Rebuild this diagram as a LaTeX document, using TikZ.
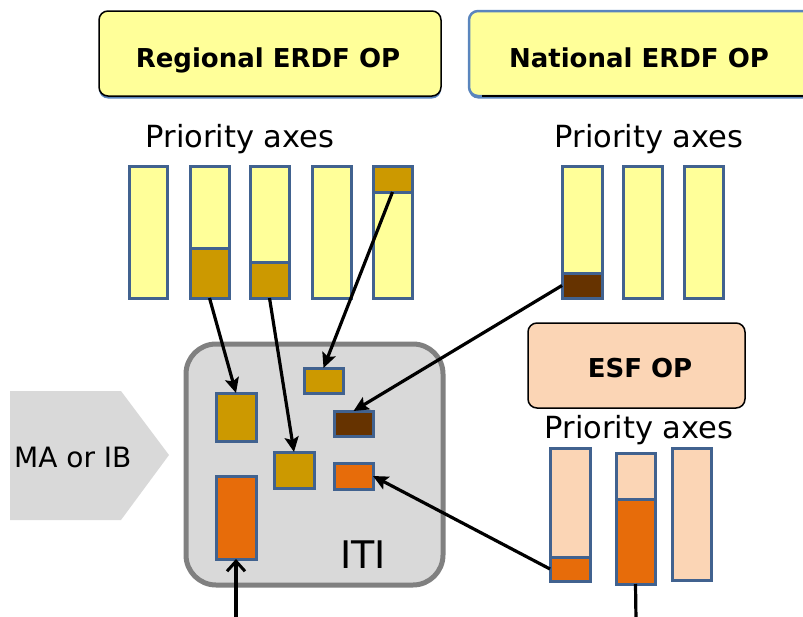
\documentclass[tikz,border=0pt]{standalone}
\usepackage{fontspec}
\setmainfont{DejaVu Sans}
\usetikzlibrary{arrows.meta}
\definecolor{paleY}{HTML}{FFFF99}
\definecolor{gold}{HTML}{CC9900}
\definecolor{brownD}{HTML}{663300}
\definecolor{peach}{HTML}{FBD5B5}
\definecolor{orangeD}{HTML}{E76C0A}
\definecolor{edgeB}{HTML}{41628F}
\definecolor{greyF}{HTML}{D9D9D9}
\definecolor{greyE}{HTML}{808080}
\definecolor{shadowB}{HTML}{5A85BD}
\newcommand{\rbox}[6]{\node[#1,minimum width={(#4-#2)*1pt},minimum height={(#5-#3)*1pt}] (#6) at ({(#2+#4)/2},{(#3+#5)/2}) {};}
\tikzset{
  barbox/.style={draw=edgeB,line width=3pt,inner sep=0pt,outer sep=0pt,rectangle},
  yb/.style={barbox,fill=paleY},
  gb/.style={barbox,fill=gold},
  bb/.style={barbox,fill=brownD},
  pb/.style={barbox,fill=peach},
  ob/.style={barbox,fill=orangeD},
  titlebox/.style={rectangle,rounded corners=9pt,inner sep=0pt,outer sep=0pt,line width=1.5pt},
  titletext/.style={font=\fontsize{26}{30}\selectfont\bfseries,anchor=base,inner sep=0pt},
  axtext/.style={font=\fontsize{30.5}{36}\selectfont,anchor=base,inner sep=0pt},
  conn/.style={line width=3.2pt,-{Stealth[length=15pt,width=14pt,inset=3pt]}},
}
\begin{document}
\begin{tikzpicture}[x=1pt,y=-1pt]
\useasboundingbox (0,0) rectangle (803,616);
\clip (0,0) rectangle (803,616);
% title boxes
\fill[shadowB,rounded corners=9pt] (99,13.5) rectangle (441,98.5);
\rbox{titlebox,fill=paleY,draw=black}{99}{11}{441}{96}{reg}
\fill[shadowB,rounded corners=9pt] (469,13.5) rectangle (830,98.5);
\rbox{titlebox,fill=paleY,draw=shadowB,line width=2.5pt}{469}{11}{830}{96}{nat}
\draw[black,line width=1.5pt] (482,96) -- (830,96);
\node[titletext] (regt) at (268,67) {Regional ERDF OP};
\node[titletext] (natt) at (639,67) {National ERDF OP};
% priority axes labels
\node[axtext] (rax) at (240,147) {Priority axes};
\node[axtext] (nax) at (649,147) {Priority axes};
% regional bars
\rbox{yb}{129}{166}{167}{298}{r1}
\rbox{yb}{190}{166}{229}{298}{r2}
\rbox{gb}{190}{248}{229}{298}{r2d}
\rbox{yb}{250}{166}{289}{298}{r3}
\rbox{gb}{250}{262}{289}{298}{r3d}
\rbox{yb}{312}{166}{351}{298}{r4}
\rbox{yb}{373}{166}{412}{298}{r5}
\rbox{gb}{373}{166}{412}{192}{r5d}
% national bars
\rbox{yb}{562}{166}{602}{298}{n1}
\rbox{bb}{562}{273}{602}{298}{n1d}
\rbox{yb}{623}{166}{662}{298}{n2}
\rbox{yb}{684}{166}{723}{298}{n3}
% MA or IB arrow shape
\fill[greyF] (10,391) -- (121,391) -- (169,455) -- (121,520) -- (10,520) -- cycle;
\node[font=\fontsize{28}{34}\selectfont,anchor=base west,inner sep=0pt] (ma) at (14,467) {MA or IB};
% ITI box
\rbox{rectangle,rounded corners=30pt,fill=greyF,draw=greyE,line width=5pt,inner sep=0pt}{186}{344}{443}{585}{iti}
\node[font=\fontsize{38}{44}\selectfont,anchor=base,inner sep=0pt] (itit) at (363,568) {ITI};
\rbox{gb}{216}{393}{256}{441}{A}
\rbox{gb}{304}{368}{343}{393}{B}
\rbox{bb}{334}{411}{373}{436}{C}
\rbox{gb}{274}{452}{314}{488}{D}
\rbox{ob}{334}{463}{373}{489}{E}
\rbox{ob}{216}{476}{256}{559}{F}
% ESF
\rbox{titlebox,fill=peach,draw=black}{528}{323}{745}{408}{esf}
\node[titletext] (esft) at (640,377) {ESF OP};
\node[axtext] (eax) at (639,438) {Priority axes};
\rbox{pb}{550}{448}{590}{581}{e1}
\rbox{ob}{550}{557}{590}{581}{e1d}
\rbox{pb}{616}{453}{655}{584}{e2}
\rbox{ob}{616}{499}{655}{584}{e2d}
\rbox{pb}{672}{448}{711}{580}{e3}
% connectors
\coordinate (bot1) at (236,620);
\coordinate (bot2) at (636,620);
\draw[conn] (r2d.south) -- (A.north);
\draw[conn] (r3d.south) -- (D.north);
\draw[conn] (r5d.south) -- (B.north);
\draw[conn] (n1d.west) -- (C.north);
\draw[conn] (e1d.west) -- (E.east);
\draw[line width=3.2pt,-{Straight Barb[length=10pt,width=18pt,line width=3pt]}] (bot1) -- (F.south);
\draw[line width=3.2pt] (e2d.south) -- (bot2);
\end{tikzpicture}
\end{document}
